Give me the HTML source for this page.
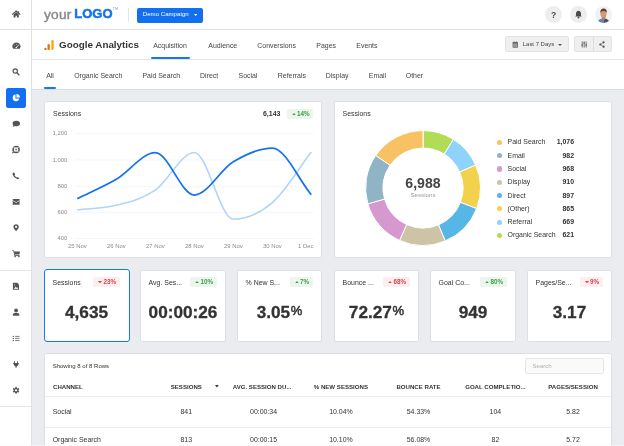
<!DOCTYPE html>
<html><head><meta charset="utf-8">
<style>
*{margin:0;padding:0;box-sizing:border-box}
html,body{width:624px;height:446px;overflow:hidden;background:#eaecf0;font-family:"Liberation Sans",sans-serif;color:#333}
#root{position:absolute;left:0;top:0;width:624px;height:446px;will-change:transform;overflow:hidden}
.a{position:absolute;white-space:nowrap}
.ln{position:absolute;background:#dfe2e6}
.card{position:absolute;background:#fff;border:1px solid #dcdfe3;border-radius:2px}
.tab{position:absolute;font-size:6.95px;color:#444;top:72px;white-space:nowrap}
.ax{font-size:5.95px;fill:#8a8a8a;font-family:"Liberation Sans",sans-serif}
.lg{position:absolute;left:497px;height:8px;width:90px;font-size:6.95px;color:#333;white-space:nowrap}
.dot{position:absolute;left:-0.4px;top:1.5px;width:5.2px;height:5.2px;border-radius:50%}
.lgn{position:absolute;left:10.5px;top:0}
.lgv{position:absolute;right:13px;top:0;font-weight:bold}
.lab{position:absolute;font-size:6.95px;color:#333;white-space:nowrap}
.big{position:absolute;text-align:center;font-size:17.2px;font-weight:bold;color:#333;white-space:nowrap;-webkit-text-stroke:0.3px #333}
.big small{font-size:13px;font-weight:normal;vertical-align:top;position:relative;top:1.2px;margin-left:0.7px;-webkit-text-stroke:0.5px #333}
.badge{position:absolute;height:9.8px;border-radius:1.6px;font-size:6.3px;font-weight:bold;line-height:10px;white-space:nowrap;padding:0 3.8px 0 4.9px}
.badge svg{display:inline-block;vertical-align:top;margin-right:1.3px;position:relative;top:3.6px}
.up{background:#ecf6ed;color:#39a047}
.dn{background:#fdeeef;color:#e03c4a}
.th{position:absolute;top:383.2px;font-size:6.1px;letter-spacing:0px;font-weight:bold;color:#333;white-space:nowrap;text-align:center;width:90px}
.td{position:absolute;font-size:6.95px;color:#333;white-space:nowrap;text-align:center;width:90px}
</style></head><body>
<div id="root">

<!-- white chrome -->
<div class="a" style="left:0;top:0;width:624px;height:90px;background:#fff"></div>
<div class="a" style="left:0;top:0;width:31px;height:446px;background:#fff"></div>
<div class="ln" style="left:0;top:29px;width:624px;height:1px;background:#e0e1e3"></div>
<div class="ln" style="left:0;top:29px;width:31px;height:1px;background:#dde1e6"></div>
<div class="ln" style="left:31px;top:59px;width:593px;height:1px;background:#e3e6ea"></div>
<div class="ln" style="left:31px;top:89px;width:593px;height:1px;background:#d9dce1"></div>
<div class="ln" style="left:31px;top:0;width:1px;height:446px;background:#dde1e6"></div>
<div class="ln" style="left:0;top:270px;width:31px;height:1px;background:#e3e6ea"></div>
<div class="ln" style="left:0;top:406px;width:31px;height:1px;background:#e3e6ea"></div>

<!-- logo -->
<div class="a" style="left:44.2px;top:7.9px;font-size:12px;color:#8a8a8a;letter-spacing:0.2px;-webkit-text-stroke:0.4px #8a8a8a;transform:scaleX(1.14);transform-origin:0 0">your</div>
<div class="a" style="left:74.3px;top:6.2px;font-size:13px;color:#1673ec;font-weight:bold;-webkit-text-stroke:0.5px #1673ec">LOGO</div>
<div class="a" style="left:112.8px;top:6.8px;font-size:3.6px;color:#9a9a9a">TM</div>
<div class="ln" style="left:128px;top:8px;width:1px;height:14px;background:#e4e6e9"></div>
<div class="a" style="left:137px;top:7.5px;width:66.2px;height:15px;background:#126ff0;border-radius:2px;color:#fff;font-size:6.1px;line-height:12.6px;padding-left:5.8px">Demo Campaign<svg style="position:absolute;left:57.2px;top:6.5px" width="3.4" height="2" viewBox="0 0 3.4 2"><path d="M0,0L1.7,2L3.4,0Z" fill="#fff"/></svg></div>

<!-- right icons -->
<div class="a" style="left:545px;top:5.8px;width:17px;height:17px;border-radius:50%;background:#eeeeee"></div>
<div class="a" style="left:545px;top:9.6px;width:17px;text-align:center;font-size:8.6px;font-weight:bold;color:#4a4a4a">?</div>
<div class="a" style="left:570px;top:5.8px;width:17px;height:17px;border-radius:50%;background:#eeeeee"></div>
<svg class="a" style="left:574px;top:9.8px" width="9" height="9" viewBox="0 0 9 9"><path d="M4.5,0.8 C2.8,0.8 2,2.2 2,3.8 L2,5.6 L1.2,6.6 L7.8,6.6 L7,5.6 L7,3.8 C7,2.2 6.2,0.8 4.5,0.8Z" fill="#4a4a4a"/><circle cx="4.5" cy="7.5" r="1" fill="#4a4a4a"/></svg>
<svg class="a" style="left:595px;top:6px" width="17" height="17" viewBox="0 0 17 17">
<defs><clipPath id="av"><circle cx="8.5" cy="8.5" r="8.5"/></clipPath></defs>
<g clip-path="url(#av)"><rect width="17" height="17" fill="#eef1f5"/>
<path d="M2.5,17 C3,14.2 4.8,13 7.2,12.6 L8.5,14 L8.5,17Z" fill="#5f84b8"/>
<path d="M8.5,17 L8.5,14 L10,12.6 C12.4,13 14,14.2 14.5,17Z" fill="#4a5058"/>
<path d="M7,11 L10.2,11 L10.4,13 L8.6,14.4 L6.8,13Z" fill="#b57d5e"/>
<ellipse cx="8.5" cy="7.9" rx="3" ry="3.9" fill="#d49a76"/>
<path d="M6,10.2 C6.8,12.2 10.2,12.2 11,10.2 C10.8,11 10,11.6 8.5,11.7 C7,11.6 6.2,11 6,10.2Z" fill="#8e5f45"/>
<path d="M5.3,7.6 C4.9,4.2 6.4,2.6 8.6,2.6 C10.9,2.6 12.3,4.1 11.9,7.4 C11.6,5.8 10.8,5.1 8.6,5 C6.6,5 5.8,5.7 5.3,7.6Z" fill="#6b3b22"/>
</g></svg>

<!-- GA header -->
<svg class="a" style="left:43px;top:39px" width="12" height="12" viewBox="0 0 12 12"><circle cx="2.5" cy="9.9" r="1.2" fill="#e8710a"/><rect x="4.5" y="5.1" width="2.3" height="6" rx="1.1" fill="#e8710a"/><rect x="8.3" y="1" width="2.4" height="10" rx="1.2" fill="#f9ab00"/></svg>
<div class="a" style="left:59px;top:38.8px;font-size:9.85px;font-weight:bold;color:#333">Google Analytics</div>
<div class="tab" style="left:153.2px;top:41.6px">Acquisition</div>
<div class="a" style="left:151px;top:57px;width:39px;height:2px;background:#1877ea;border-radius:1px"></div>
<div class="tab" style="left:208.3px;top:41.6px">Audience</div>
<div class="tab" style="left:257.3px;top:41.6px">Conversions</div>
<div class="tab" style="left:316.3px;top:41.6px">Pages</div>
<div class="tab" style="left:356.3px;top:41.6px">Events</div>

<div class="a" style="left:505px;top:36px;width:64px;height:16px;background:#efefef;border:1px solid #e3e3e3;border-radius:2px"></div>
<svg class="a" style="left:512px;top:41px" width="7" height="7" viewBox="0 0 7 7"><rect x="0.6" y="0.9" width="5.4" height="5.8" rx="0.7" fill="#6a6a6a"/><rect x="1.3" y="2.6" width="4" height="3.4" fill="#9a9a9a"/><rect x="1.6" y="0.2" width="0.7" height="1.2" fill="#6a6a6a"/><rect x="4.3" y="0.2" width="0.7" height="1.2" fill="#6a6a6a"/></svg>
<div class="a" style="left:522.8px;top:41.2px;font-size:5.95px;color:#444">Last 7 Days</div>
<div class="a" style="left:558.2px;top:44px;width:0;height:0;border-left:2px solid transparent;border-right:2px solid transparent;border-top:2.2px solid #555"></div>
<div class="a" style="left:574px;top:36px;width:38px;height:16px;background:#efefef;border:1px solid #e3e3e3;border-radius:2px"></div>
<div class="ln" style="left:593px;top:37px;width:1px;height:14px;background:#dedede"></div>
<svg class="a" style="left:580.5px;top:41px" width="7" height="7" viewBox="0 0 7 7"><path d="M1.2,0.4V6.6M3.2,0.4V6.6M5.2,0.4V6.6" stroke="#555" stroke-width="0.75"/><rect x="0.4" y="3.6" width="1.6" height="1" fill="#555"/><rect x="2.4" y="1.6" width="1.6" height="1" fill="#555"/><rect x="4.4" y="3.6" width="1.6" height="1" fill="#555"/></svg>
<svg class="a" style="left:599px;top:40.5px" width="6" height="7" viewBox="0 0 6 7"><circle cx="4.6" cy="1.3" r="1.1" fill="#555"/><circle cx="1.3" cy="3.5" r="1.1" fill="#555"/><circle cx="4.6" cy="5.7" r="1.1" fill="#555"/><path d="M4.6,1.3L1.3,3.5L4.6,5.7" fill="none" stroke="#555" stroke-width="0.6"/></svg>

<!-- tabs -->
<div class="tab" style="left:46.2px">All</div>
<div class="a" style="left:44px;top:87.2px;width:11.7px;height:1.9px;background:#1877ea;border-radius:1px"></div>
<div class="tab" style="left:74.2px">Organic Search</div>
<div class="tab" style="left:142.4px">Paid Search</div>
<div class="tab" style="left:200.1px">Direct</div>
<div class="tab" style="left:238.5px">Social</div>
<div class="tab" style="left:277.8px">Referrals</div>
<div class="tab" style="left:325.8px">Display</div>
<div class="tab" style="left:368.8px">Email</div>
<div class="tab" style="left:405.8px">Other</div>

<!-- sidebar icons -->
<svg class="a" style="left:8px;top:6px" width="16" height="16" viewBox="0 0 16 16"><path d="M4.1,8.7 L8.2,5 L12.3,8.7" fill="none" stroke="#545454" stroke-width="1.1" stroke-linejoin="round"/><path d="M5.6,8.4 L8.2,6.1 L10.8,8.4 L10.8,11.6 L8.9,11.6 L8.9,9.8 L7.5,9.8 L7.5,11.6 L5.6,11.6Z" fill="#545454"/><rect x="10" y="5.4" width="1.1" height="2.2" fill="#545454"/></svg>
<svg class="a" style="left:8px;top:38px" width="16" height="16" viewBox="0 0 16 16"><path d="M5.2,10.8 A3.95,3.95 0 1 1 11.7,10.8Z" fill="#545454"/><path d="M8.3,9.6 L10.5,7.1" stroke="#fff" stroke-width="0.85" stroke-linecap="round"/><circle cx="8.3" cy="9.6" r="0.75" fill="#fff"/><circle cx="6.2" cy="7.6" r="0.45" fill="#fff"/><circle cx="8.4" cy="6.2" r="0.45" fill="#fff"/></svg>
<svg class="a" style="left:8px;top:64px" width="16" height="16" viewBox="0 0 16 16"><circle cx="7.25" cy="7" r="2.15" fill="none" stroke="#545454" stroke-width="1.15"/><path d="M8.9,8.7 L10.9,10.8" stroke="#545454" stroke-width="1.35" stroke-linecap="round"/></svg>
<svg class="a" style="left:8px;top:116px" width="16" height="16" viewBox="0 0 16 16"><ellipse cx="8.3" cy="7.5" rx="3.7" ry="2.7" fill="#545454"/><path d="M5.6,9 L4.7,10.9 L7.3,9.9Z" fill="#545454"/></svg>
<svg class="a" style="left:8px;top:142px" width="16" height="16" viewBox="0 0 16 16"><circle cx="8.1" cy="7.5" r="3" fill="none" stroke="#545454" stroke-width="1.5"/><path d="M5.6,5L7.1,6.5M10.6,5L9.1,6.5M5.6,10L7.1,8.5M10.6,10L9.1,8.5" stroke="#fff" stroke-width="0.75"/><circle cx="8.1" cy="7.5" r="1" fill="#545454" opacity="0.75"/><path d="M5.7,9.8 L4.6,10.9" stroke="#545454" stroke-width="1.1" stroke-linecap="round"/></svg>
<svg class="a" style="left:8px;top:168px" width="16" height="16" viewBox="0 0 16 16"><path d="M5.2,4.6 C4.2,5.2 4.4,7 5.8,8.6 C7.4,10.4 9.4,11.6 10.6,11 L11.2,10.2 L9.7,8.9 L8.8,9.5 C8,9 7,8 6.5,7.2 L7.2,6.3 L6,4.6Z" fill="#545454"/></svg>
<svg class="a" style="left:8px;top:194px" width="16" height="16" viewBox="0 0 16 16"><rect x="4.7" y="5" width="6.9" height="5.8" rx="0.5" fill="#545454"/><path d="M4.9,6.6 L8.15,8.6 L11.4,6.6" fill="none" stroke="#fff" stroke-width="0.7"/></svg>
<svg class="a" style="left:8px;top:220px" width="16" height="16" viewBox="0 0 16 16"><path d="M8.1,11.2 C7.2,10 5.4,8.3 5.4,6.9 C5.4,5.3 6.6,4.2 8.1,4.2 C9.6,4.2 10.8,5.3 10.8,6.9 C10.8,8.3 9,10 8.1,11.2Z" fill="#545454"/><circle cx="8.1" cy="6.9" r="1.05" fill="#fff"/></svg>
<svg class="a" style="left:8px;top:246px" width="16" height="16" viewBox="0 0 16 16"><path d="M4.3,4.4 L5.8,4.9 L6.8,9.6 L11.6,9.6" fill="none" stroke="#545454" stroke-width="0.9" stroke-linejoin="round"/><path d="M6,5.4 L12,5.4 L11.4,8.6 L6.6,8.6Z" fill="#545454"/><circle cx="7.1" cy="10.6" r="0.8" fill="#545454"/><circle cx="10.9" cy="10.6" r="0.8" fill="#545454"/></svg>
<svg class="a" style="left:8px;top:278px" width="16" height="16" viewBox="0 0 16 16"><path d="M4.9,4.7 L9.3,4.7 L11,6.4 L11,11.8 L4.9,11.8Z" fill="#545454"/><path d="M5.9,10.9 L7.6,8.6 L8.8,9.8 L9.4,9.2 L10.2,10.9Z" fill="#fff" opacity="0.85"/><circle cx="6.6" cy="6.8" r="0.6" fill="#fff" opacity="0.7"/></svg>
<svg class="a" style="left:8px;top:304px" width="16" height="16" viewBox="0 0 16 16"><circle cx="8.1" cy="6.5" r="1.9" fill="#545454"/><path d="M4.9,11.8 L4.9,10.6 C4.9,9.5 5.8,8.9 6.8,8.9 L9.4,8.9 C10.4,8.9 11.3,9.5 11.3,10.6 L11.3,11.8Z" fill="#545454"/></svg>
<svg class="a" style="left:8px;top:330px" width="16" height="16" viewBox="0 0 16 16"><circle cx="5.3" cy="6.4" r="0.65" fill="#545454"/><circle cx="5.3" cy="8.4" r="0.65" fill="#545454"/><circle cx="5.3" cy="10.5" r="0.65" fill="#545454"/><path d="M7.1,6.4H11.6M7.1,8.4H11.6M7.1,10.5H11.6" stroke="#545454" stroke-width="0.75"/></svg>
<svg class="a" style="left:8px;top:356px" width="16" height="16" viewBox="0 0 16 16"><rect x="6" y="4.8" width="0.9" height="2.4" rx="0.45" fill="#545454"/><rect x="9.1" y="4.8" width="0.9" height="2.4" rx="0.45" fill="#545454"/><path d="M5,7.1 L11,7.1 L11,7.7 L10.4,7.7 L10.4,8.6 C10.4,9.5 9.6,10.1 8.6,10.2 L8.6,11.8 L7.5,11.8 L7.5,10.2 C6.5,10.1 5.7,9.5 5.7,8.6 L5.7,7.7 L5,7.7Z" fill="#545454"/></svg>
<svg class="a" style="left:8px;top:382px" width="16" height="16" viewBox="0 0 16 16"><path d="M7.35,5.85 L7.49,4.79 L8.61,4.79 L8.75,5.85 L9.82,6.47 L10.81,6.07 L11.36,7.03 L10.52,7.68 L10.52,8.92 L11.36,9.57 L10.81,10.53 L9.82,10.13 L8.75,10.75 L8.61,11.81 L7.49,11.81 L7.35,10.75 L6.28,10.13 L5.29,10.53 L4.74,9.57 L5.58,8.92 L5.58,7.68 L4.74,7.03 L5.29,6.07 L6.28,6.47Z" fill="#545454"/><circle cx="8.05" cy="8.3" r="1.15" fill="#fff"/></svg>
<div class="a" style="left:6px;top:88px;width:19.5px;height:20px;background:#1270f0;border-radius:2.2px"></div><svg class="a" style="left:8px;top:90px" width="16" height="16" viewBox="0 0 16 16"><path d="M7.5,8.4 L7.5,4.6 A3.3,3.3 0 1 0 11.2,8.4Z" fill="#fff"/><path d="M8.4,3.9 L8.4,7.5 L11.9,7.5 A3.6,3.6 0 0 0 8.4,3.9Z" fill="#fff"/></svg>


<!-- chart card -->
<div class="card" style="left:44px;top:101px;width:278px;height:157px"></div>
<div class="lab" style="left:53px;top:110.1px">Sessions</div>
<div class="a" style="left:263px;top:110.2px;font-size:6.95px;font-weight:bold;color:#333">6,143</div>
<div class="badge up" style="right:310.6px;top:109.1px"><svg width="4" height="2.3" viewBox="0 0 4 2.3"><path d="M0,2.3L2,0L4,2.3Z" fill="#39a047"/></svg>14%</div>
<svg class="a" style="left:0;top:0" width="624" height="446">
<line x1="75" y1="133.40" x2="313.5" y2="133.40" stroke="#eef0f2" stroke-width="0.6"/><text x="67.4" y="135.30" text-anchor="end" class="ax">1,200</text><line x1="75" y1="160.00" x2="313.5" y2="160.00" stroke="#eef0f2" stroke-width="0.6"/><text x="67.4" y="161.90" text-anchor="end" class="ax">1,000</text><line x1="75" y1="186.40" x2="313.5" y2="186.40" stroke="#eef0f2" stroke-width="0.6"/><text x="67.4" y="188.30" text-anchor="end" class="ax">800</text><line x1="75" y1="212.50" x2="313.5" y2="212.50" stroke="#eef0f2" stroke-width="0.6"/><text x="67.4" y="214.40" text-anchor="end" class="ax">600</text><line x1="75" y1="238.50" x2="313.5" y2="238.50" stroke="#eef0f2" stroke-width="0.6"/><text x="67.4" y="240.40" text-anchor="end" class="ax">400</text><text x="77.30" y="248" text-anchor="middle" class="ax">25 Nov</text><text x="116.30" y="248" text-anchor="middle" class="ax">26 Nov</text><text x="155.30" y="248" text-anchor="middle" class="ax">27 Nov</text><text x="194.30" y="248" text-anchor="middle" class="ax">28 Nov</text><text x="233.30" y="248" text-anchor="middle" class="ax">29 Nov</text><text x="272.30" y="248" text-anchor="middle" class="ax">30 Nov</text><text x="313.60" y="248" text-anchor="end" class="ax">1 Dec</text>
<path d="M77.30,209.85 C90.30,208.30 103.30,208.47 116.30,205.20 C129.30,201.92 142.30,198.98 155.30,190.20 C168.30,181.42 181.30,152.50 194.30,152.50 C207.30,152.50 220.30,219.20 233.30,219.20 C246.30,219.20 259.30,213.78 272.30,202.60 C285.30,191.42 298.30,168.93 311.30,152.10" fill="none" stroke="#b0d5fa" stroke-width="1.6"/>
<path d="M77.30,198.60 C90.30,192.17 103.30,186.95 116.30,179.30 C129.30,171.65 142.30,152.70 155.30,152.70 C168.30,152.70 181.30,195.00 194.30,195.00 C207.30,195.00 220.30,169.62 233.30,161.80 C246.30,153.98 259.30,148.10 272.30,148.10 C285.30,148.10 298.30,179.23 311.30,194.80" fill="none" stroke="#1472ec" stroke-width="1.75"/>
</svg>

<!-- donut card -->
<div class="card" style="left:334px;top:101px;width:278px;height:157px"></div>
<div class="lab" style="left:342.5px;top:110.1px">Sessions</div>
<svg class="a" style="left:0;top:0" width="624" height="446"><path d="M423.00,130.60 A57.4,57.4 0 0 1 453.41,139.32 L444.19,154.08 A40,40 0 0 0 423.00,148.00 Z" fill="#b3dc56" stroke="#fff" stroke-width="1"/><path d="M453.41,139.32 A57.4,57.4 0 0 1 475.62,165.07 L459.67,172.02 A40,40 0 0 0 444.19,154.08 Z" fill="#8fd3fb" stroke="#fff" stroke-width="1"/><path d="M475.62,165.07 A57.4,57.4 0 0 1 476.58,208.59 L460.34,202.35 A40,40 0 0 0 459.67,172.02 Z" fill="#f2d24c" stroke="#fff" stroke-width="1"/><path d="M476.58,208.59 A57.4,57.4 0 0 1 445.22,240.93 L438.48,224.88 A40,40 0 0 0 460.34,202.35 Z" fill="#56b6e6" stroke="#fff" stroke-width="1"/><path d="M445.22,240.93 A57.4,57.4 0 0 1 399.55,240.39 L406.66,224.51 A40,40 0 0 0 438.48,224.88 Z" fill="#cdc4a8" stroke="#fff" stroke-width="1"/><path d="M399.55,240.39 A57.4,57.4 0 0 1 367.83,203.84 L384.55,199.04 A40,40 0 0 0 406.66,224.51 Z" fill="#d699cf" stroke="#fff" stroke-width="1"/><path d="M367.83,203.84 A57.4,57.4 0 0 1 375.73,155.43 L390.06,165.30 A40,40 0 0 0 384.55,199.04 Z" fill="#8fb4c5" stroke="#fff" stroke-width="1"/><path d="M375.73,155.43 A57.4,57.4 0 0 1 423.00,130.60 L423.00,148.00 A40,40 0 0 0 390.06,165.30 Z" fill="#f8c163" stroke="#fff" stroke-width="1"/></svg>
<div class="a" style="left:383px;top:174.7px;width:80px;text-align:center;font-size:14.1px;font-weight:bold;color:#444">6,988</div>
<div class="a" style="left:383px;top:191px;width:80px;text-align:center;font-size:6.2px;color:#999">Sessions</div>
<div class="lg" style="top:138.45px"><span class="dot" style="background:#f8c163"></span><span class="lgn">Paid Search</span><span class="lgv">1,076</span></div><div class="lg" style="top:151.72px"><span class="dot" style="background:#8fb4c5"></span><span class="lgn">Email</span><span class="lgv">982</span></div><div class="lg" style="top:164.99px"><span class="dot" style="background:#d699cf"></span><span class="lgn">Social</span><span class="lgv">968</span></div><div class="lg" style="top:178.26px"><span class="dot" style="background:#cdc4a8"></span><span class="lgn">Display</span><span class="lgv">910</span></div><div class="lg" style="top:191.53px"><span class="dot" style="background:#56b6e6"></span><span class="lgn">Direct</span><span class="lgv">897</span></div><div class="lg" style="top:204.80px"><span class="dot" style="background:#f2d24c"></span><span class="lgn">(Other)</span><span class="lgv">865</span></div><div class="lg" style="top:218.07px"><span class="dot" style="background:#8fd3fb"></span><span class="lgn">Referral</span><span class="lgv">669</span></div><div class="lg" style="top:231.34px"><span class="dot" style="background:#b3dc56"></span><span class="lgn">Organic Search</span><span class="lgv">621</span></div>

<!-- KPI cards -->
<div class="card" style="left:43.5px;top:268.7px;width:86px;height:73.3px;border:1.5px solid #1877ea;border-radius:3px"></div><div class="lab" style="left:52.6px;top:278.6px">Sessions</div><div class="badge dn" style="right:504.10px;top:277px"><svg width="4" height="2.3" viewBox="0 0 4 2.3"><path d="M0,0L2,2.3L4,0Z" fill="#e03c4a"/></svg>23%</div><div class="big" style="left:44px;top:301.8px;width:85px">4,635</div><div class="card" style="left:140px;top:269.5px;width:86px;height:72.5px"></div><div class="lab" style="left:148.6px;top:278.6px">Avg. Ses...</div><div class="badge up" style="right:407.10px;top:277px"><svg width="4" height="2.3" viewBox="0 0 4 2.3"><path d="M0,2.3L2,0L4,2.3Z" fill="#39a047"/></svg>10%</div><div class="big" style="left:140px;top:301.8px;width:86px">00:00:26</div><div class="card" style="left:237px;top:269.5px;width:85px;height:72.5px"></div><div class="lab" style="left:245.6px;top:278.6px">% New S...</div><div class="badge up" style="right:311.10px;top:277px"><svg width="4" height="2.3" viewBox="0 0 4 2.3"><path d="M0,2.3L2,0L4,2.3Z" fill="#39a047"/></svg>7%</div><div class="big" style="left:237px;top:301.8px;width:85px">3.05<small>%</small></div><div class="card" style="left:334px;top:269.5px;width:85px;height:72.5px"></div><div class="lab" style="left:342.6px;top:278.6px">Bounce ...</div><div class="badge dn" style="right:214.10px;top:277px"><svg width="4" height="2.3" viewBox="0 0 4 2.3"><path d="M0,2.3L2,0L4,2.3Z" fill="#e03c4a"/></svg>68%</div><div class="big" style="left:334px;top:301.8px;width:85px">72.27<small>%</small></div><div class="card" style="left:430px;top:269.5px;width:86px;height:72.5px"></div><div class="lab" style="left:438.6px;top:278.6px">Goal Co...</div><div class="badge up" style="right:117.10px;top:277px"><svg width="4" height="2.3" viewBox="0 0 4 2.3"><path d="M0,2.3L2,0L4,2.3Z" fill="#39a047"/></svg>80%</div><div class="big" style="left:430px;top:301.8px;width:86px">949</div><div class="card" style="left:527px;top:269.5px;width:85px;height:72.5px"></div><div class="lab" style="left:535.6px;top:278.6px">Pages/Se...</div><div class="badge dn" style="right:21.10px;top:277px"><svg width="4" height="2.3" viewBox="0 0 4 2.3"><path d="M0,0L2,2.3L4,0Z" fill="#e03c4a"/></svg>9%</div><div class="big" style="left:527px;top:301.8px;width:85px">3.17</div>

<!-- table -->
<div class="card" style="left:44px;top:353px;width:568px;height:110px"></div>
<div class="a" style="left:52.7px;top:362.6px;font-size:6px;color:#333">Showing 8 of 8 Rows</div>
<div class="a" style="left:525px;top:358px;width:79px;height:16px;border:1px solid #e6e6e6;background:#fafafa;border-radius:2px;font-size:6px;color:#b0b0b0;padding:3.7px 0 0 6.6px">Search</div>
<div class="th" style="left:8px;text-align:left;padding-left:45px;width:140px">CHANNEL</div>
<div class="th" style="left:141.30px">SESSIONS</div><div class="td" style="left:141.30px;top:408.2px">841</div><div class="td" style="left:141.30px;top:435.8px">813</div><div class="th" style="left:217.10px">AVG. SESSION DU...</div><div class="td" style="left:218.60px;top:408.2px">00:00:34</div><div class="td" style="left:218.60px;top:435.8px">00:00:15</div><div class="th" style="left:295.90px">% NEW SESSIONS</div><div class="td" style="left:295.90px;top:408.2px">10.04%</div><div class="td" style="left:295.90px;top:435.8px">10.10%</div><div class="th" style="left:373.50px">BOUNCE RATE</div><div class="td" style="left:373.50px;top:408.2px">54.33%</div><div class="td" style="left:373.50px;top:435.8px">56.08%</div><div class="th" style="left:450.40px">GOAL COMPLETIO...</div><div class="td" style="left:450.40px;top:408.2px">104</div><div class="td" style="left:450.40px;top:435.8px">82</div><div class="th" style="left:528.00px">PAGES/SESSION</div><div class="td" style="left:528.00px;top:408.2px">5.82</div><div class="td" style="left:528.00px;top:435.8px">5.72</div>
<svg class="a" style="left:215px;top:385.3px" width="3.8" height="2.6" viewBox="0 0 3.8 2.6"><path d="M0,0L1.9,2.6L3.8,0Z" fill="#333"/></svg>
<div class="ln" style="left:45px;top:396px;width:566px;height:1px;background:#e9ebee"></div>
<div class="td" style="left:52.7px;top:408.2px;text-align:left">Social</div>
<div class="ln" style="left:45px;top:427px;width:566px;height:1px;background:#e9ebee"></div>
<div class="td" style="left:52.7px;top:435.8px;text-align:left">Organic Search</div>

<div class="a" style="left:0;top:445px;width:624px;height:1px;background:rgba(250,251,251,0.6)"></div>
</div>
</body></html>
